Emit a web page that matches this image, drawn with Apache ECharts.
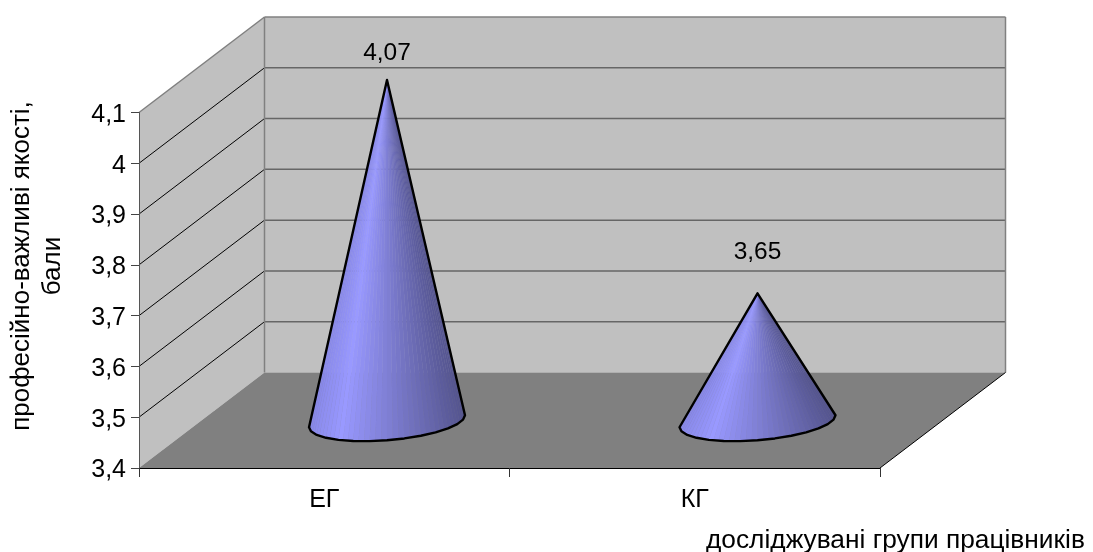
<!DOCTYPE html>
<html>
<head>
<meta charset="utf-8">
<title>3D cones</title>
<script src="https://cdn.jsdelivr.net/npm/echarts@6/dist/echarts.min.js"></script>
<style>
  html, body { margin: 0; padding: 0; background: #fff; }
  #chart { width: 1093px; height: 552px; }
</style>
</head>
<body>
<div id="chart"></div>
<script>
const categories = ["ЕГ", "КГ"];
const values = [4.07, 3.65];
const valueLabels = ["4,07", "3,65"];
const yTicks = [3.5, 3.6, 3.7, 3.8, 3.9, 4, 4.1];

const FONT = "Liberation Sans";
// fake 3d: how far the back wall is shifted from the front plane, px
const DEPTH_X = 125.5;
const DEPTH_Y = 95.5;
const Y_MIN = 3.4;
const Y_MAX = 4.1;
// cone base, px
const BASE_RX = 78;
const BASE_RY = 19;
const BASE_TILT = -6;
const SLICES = 42;
// distance from tip to label differs per cone in the original
const LABEL_GAP = [27, 41];

function hex(c) {
  return "rgb(" + c.map(Math.round).join(",") + ")";
}

// shading across the cone, left to right
function shade(f) {
  const stops = [
    [0, [136, 136, 232]],
    [0.2, [153, 153, 255]],
    [1, [84, 84, 142]],
  ];
  for (let i = 1; i < stops.length; i++) {
    if (f <= stops[i][0]) {
      const k = (f - stops[i - 1][0]) / (stops[i][0] - stops[i - 1][0]);
      return hex(stops[i - 1][1].map((v, n) => v + (stops[i][1][n] - v) * k));
    }
  }
  return hex(stops[stops.length - 1][1]);
}

function renderWalls(params, api) {
  const fl = api.coord([0, Y_MIN]);
  const left = params.coordSys.x;
  const right = left + params.coordSys.width;
  const bottom = fl[1];
  const top = api.coord([0, Y_MAX])[1];
  const bx = DEPTH_X;
  const by = DEPTH_Y;
  const children = [
    {
      type: "polygon",
      shape: { points: [[left, bottom], [left + bx, bottom - by], [left + bx, top - by], [left, top]] },
      style: { fill: "#c0c0c0", stroke: null },
    },
    {
      type: "rect",
      shape: { x: left + bx, y: top - by, width: right - left, height: bottom - top },
      style: { fill: "#c0c0c0", stroke: null },
    },
    {
      type: "polygon",
      shape: { points: [[left, bottom], [right, bottom], [right + bx, bottom - by], [left + bx, bottom - by]] },
      style: { fill: "#808080", stroke: null },
    },
  ];
  yTicks.forEach((t) => {
    const y = api.coord([0, t])[1];
    children.push({
      type: "line",
      shape: { x1: left, y1: y, x2: left + bx, y2: y - by },
      style: { stroke: t === Y_MAX ? "#808080" : "#000", lineWidth: t === Y_MAX ? 1.5 : 1 },
    });
    children.push({
      type: "line",
      shape: { x1: left + bx, y1: y - by, x2: right + bx, y2: y - by },
      style: { stroke: t === Y_MAX ? "#808080" : "#666", lineWidth: 1.5 },
    });
  });
  // wall borders
  children.push({
    type: "line",
    shape: { x1: left + bx, y1: top - by, x2: left + bx, y2: bottom - by },
    style: { stroke: "#808080", lineWidth: 1.5 },
  });
  children.push({
    type: "line",
    shape: { x1: right + bx, y1: top - by, x2: right + bx, y2: bottom - by },
    style: { stroke: "#808080", lineWidth: 1.5 },
  });
  // front edge of floor on the right
  children.push({
    type: "line",
    shape: { x1: right, y1: bottom, x2: right + bx, y2: bottom - by },
    style: { stroke: "#000", lineWidth: 1 },
  });
  return { type: "group", children: children };
}

function renderCone(params, api) {
  const idx = api.value(0);
  const tip = api.coord([idx, api.value(1)]);
  const foot = api.coord([idx, Y_MIN]);
  // cones stand half way back on the floor
  const cx = foot[0] + DEPTH_X / 2;
  const cy = foot[1] - DEPTH_Y / 2 + 1;
  const apex = [tip[0] + DEPTH_X / 2, tip[1] - DEPTH_Y / 2];

  const rim = [];
  for (let i = 0; i <= SLICES; i++) {
    const t = (Math.PI * i) / SLICES;
    rim.push([
      cx + BASE_RX * Math.cos(t),
      cy + BASE_RY * Math.sin(t) + BASE_TILT * Math.cos(t),
    ]);
  }

  const children = [];
  for (let i = 0; i < SLICES; i++) {
    const mid = (rim[i][0] + rim[i + 1][0]) / 2;
    const col = shade((mid - (cx - BASE_RX)) / (2 * BASE_RX));
    children.push({
      type: "polygon",
      shape: { points: [apex, rim[i], rim[i + 1]] },
      style: { fill: col, stroke: col, lineWidth: 0.4 },
    });
  }
  // outline is a bit faceted in the original
  children.push({
    type: "polygon",
    shape: { points: [apex].concat(rim.filter((p, i) => i % 3 === 0)) },
    style: { fill: null, stroke: "#000", lineWidth: 2.4, lineJoin: "round" },
  });
  children.push({
    type: "text",
    style: {
      text: valueLabels[idx],
      x: apex[0],
      y: apex[1] - LABEL_GAP[params.dataIndex],
      fill: "#000",
      font: "24.5px '" + FONT + "'",
      align: "center",
      verticalAlign: "middle",
    },
  });
  return { type: "group", children: children };
}

const chart = echarts.init(document.getElementById("chart"), null, { renderer: "canvas" });

chart.setOption({
  animation: false,
  backgroundColor: "#fff",
  grid: { left: 139, right: 213, top: 112.5, height: 355.5, outerBoundsMode: "none" },
  xAxis: {
    type: "category",
    data: categories,
    z: 3,
    axisLine: { lineStyle: { color: "#000", width: 1 } },
    axisTick: { show: true, length: 9, alignWithLabel: false, lineStyle: { color: "#333" } },
    axisLabel: { color: "#000", fontFamily: FONT, fontSize: 25, margin: 20 },
  },
  yAxis: {
    type: "value",
    min: Y_MIN,
    max: Y_MAX,
    interval: 0.1,
    z: 3,
    splitLine: { show: false },
    axisLine: { show: true, lineStyle: { color: "#555", width: 1 } },
    axisTick: { show: true, length: 8, lineStyle: { color: "#444" } },
    axisLabel: {
      color: "#000",
      fontFamily: FONT,
      fontSize: 25,
      margin: 13,
      lineHeight: 25,
      verticalAlign: "top",
      padding: [-10, 0, 0, 0],
      formatter: (v) => String(Math.round(v * 10) / 10).replace(".", ","),
    },
  },
  graphic: [
    {
      type: "text",
      x: 37,
      y: 266,
      rotation: Math.PI / 2,
      style: {
        text: "професійно-важливі якості,\nбали",
        fill: "#000",
        font: "26px '" + FONT + "'",
        lineHeight: 31,
        align: "center",
        verticalAlign: "middle",
      },
    },
    {
      type: "text",
      x: 706,
      y: 541,
      style: {
        text: "досліджувані групи працівників",
        fill: "#000",
        font: "26.3px '" + FONT + "'",
        verticalAlign: "middle",
      },
    },
  ],
  series: [
    {
      type: "custom",
      z: 1,
      silent: true,
      renderItem: renderWalls,
      encode: { x: 0, y: 1 },
      data: [[0, Y_MIN]],
    },
    {
      type: "custom",
      z: 4,
      renderItem: renderCone,
      encode: { x: 0, y: 1 },
      data: values.map((v, i) => [i, v]),
    },
  ],
});
</script>
</body>
</html>
